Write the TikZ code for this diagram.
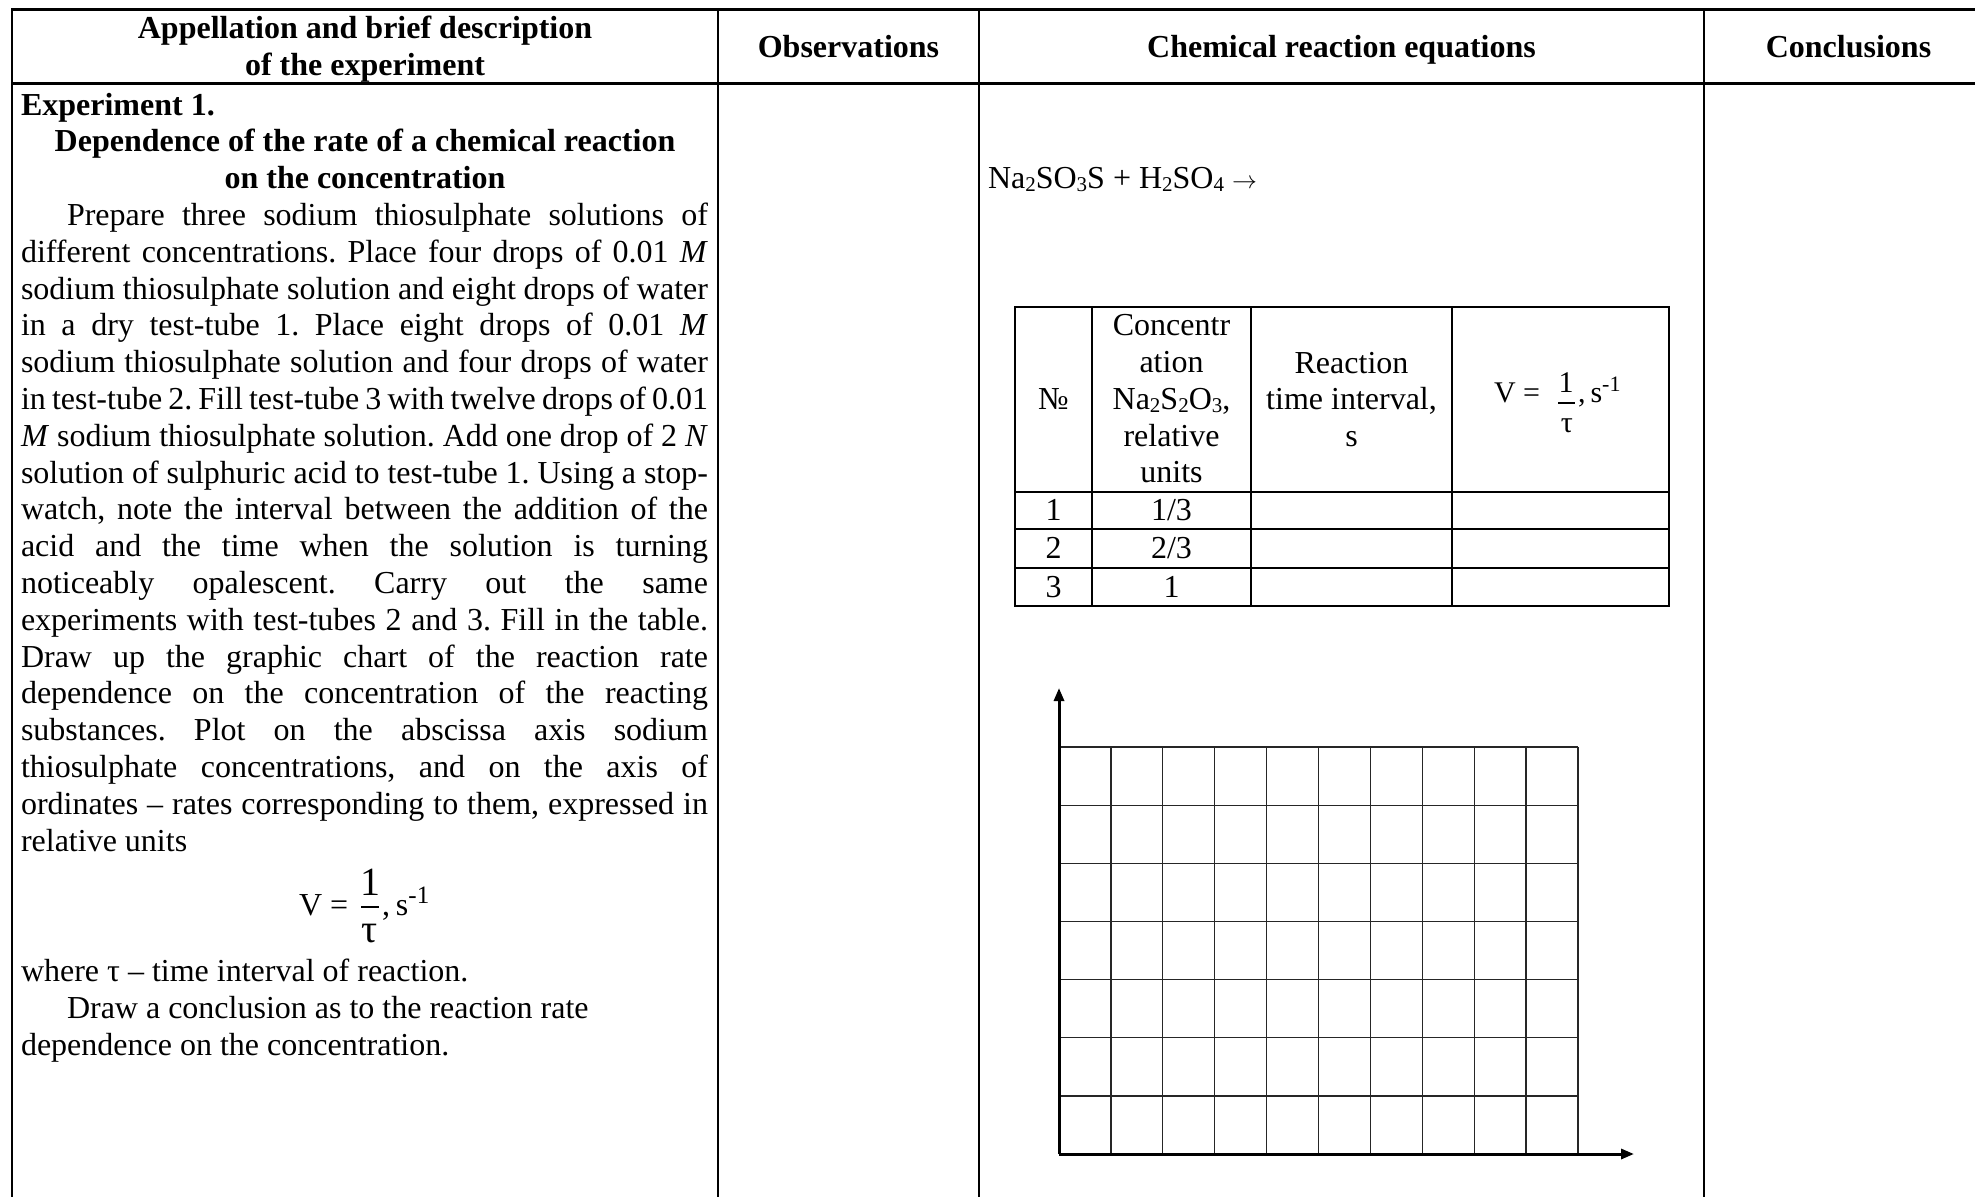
\documentclass[tikz,border=0pt]{standalone}
\usepackage{fontspec}
\setmainfont{Liberation Serif}
\usetikzlibrary{arrows.meta}
\newcommand\bodyfont{\fontsize{32}{36.8}\selectfont}
\newcommand\fmfont{\fontsize{30}{34}\selectfont}
\newcommand\bigfmfont{\fontsize{40}{44}\selectfont}
\newcommand\chsub[1]{\raisebox{-0.1em}{\fontsize{21}{21}\selectfont #1}}
\newcommand\chsup[1]{\raisebox{0.36em}{\fontsize{25}{25}\selectfont #1}}
\newcommand\chsupt[1]{\raisebox{0.36em}{\fontsize{22}{22}\selectfont #1}}
\begin{document}
\frenchspacing
\begin{tikzpicture}[x=1pt,y=-1pt,
  tl/.style={anchor=base west, inner sep=0pt, outer sep=0pt, font=\bodyfont},
  tc/.style={anchor=base, inner sep=0pt, outer sep=0pt, font=\bodyfont},
  hd/.style={tc, font=\bodyfont\bfseries},
  rulel/.style={line width=2.2pt},
  thinrule/.style={line width=2pt},
  fracbar/.style={line width=1.5pt},
  gridline/.style={line width=1.3pt, black!85},
  axisline/.style={line width=3pt, -{Triangle[length=13pt,width=10pt]}}]
\useasboundingbox (0,0) rectangle (1975,1197);

% ---- outer table ----
\draw[rulel] (1975,9.5) -- (12,9.5) -- (12,1197);
\draw[rulel] (12,83.5) -- (1975,83.5);
\foreach \x in {718,979,1704} \draw[rulel] (\x,9.5) -- (\x,1197);

% ---- header ----
\node[hd] (h1a) at (365,38.7) {Appellation and brief description};
\node[hd] (h1b) at (365,75.5) {of the experiment};
\node[hd] (h2) at (848.5,57) {Observations};
\node[hd] (h3) at (1341.5,57) {Chemical reaction equations};
\node[hd] (h4) at (1848.5,57) {Conclusions};

% ---- left column ----
\node[tl,font=\bodyfont\bfseries] (b0) at (21,115) {Experiment 1.};
\node[hd] (b1) at (365,151.8) {Dependence of the rate of a chemical reaction};
\node[hd] (b2) at (365,188.6) {on the concentration};
\node[tl] (b3) at (67,225.4) {\makebox[641pt][s]{Prepare three sodium thiosulphate solutions of}};
\node[tl] (b4) at (21,262.2) {\makebox[687pt][s]{different concentrations. Place four drops of 0.01 \textit{M}}};
\node[tl] (b5) at (21,299) {\makebox[687pt][s]{sodium thiosulphate solution and eight drops of water}};
\node[tl] (b6) at (21,335.8) {\makebox[687pt][s]{in a dry test-tube 1. Place eight drops of 0.01 \textit{M}}};
\node[tl] (b7) at (21,372.6) {\makebox[687pt][s]{sodium thiosulphate solution and four drops of water}};
\node[tl] (b8) at (21,409.4) {\makebox[687pt][s]{in test-tube 2. Fill test-tube 3 with twelve drops of 0.01}};
\node[tl] (b9) at (21,446.2) {\makebox[687pt][s]{\textit{M} sodium thiosulphate solution. Add one drop of 2 \textit{N}}};
\node[tl] (b10) at (21,483) {\makebox[687pt][s]{solution of sulphuric acid to test-tube 1. Using a stop-}};
\node[tl] (b11) at (21,519.8) {\makebox[687pt][s]{watch, note the interval between the addition of the}};
\node[tl] (b12) at (21,556.6) {\makebox[687pt][s]{acid and the time when the solution is turning}};
\node[tl] (b13) at (21,593.4) {\makebox[687pt][s]{noticeably opalescent. Carry out the same}};
\node[tl] (b14) at (21,630.2) {\makebox[687pt][s]{experiments with test-tubes 2 and 3. Fill in the table.}};
\node[tl] (b15) at (21,667) {\makebox[687pt][s]{Draw up the graphic chart of the reaction rate}};
\node[tl] (b16) at (21,703.8) {\makebox[687pt][s]{dependence on the concentration of the reacting}};
\node[tl] (b17) at (21,740.6) {\makebox[687pt][s]{substances. Plot on the abscissa axis sodium}};
\node[tl] (b18) at (21,777.4) {\makebox[687pt][s]{thiosulphate concentrations, and on the axis of}};
\node[tl] (b19) at (21,814.2) {\makebox[687pt][s]{ordinates – rates corresponding to them, expressed in}};
\node[tl] (b20) at (21,851) {relative units};

% formula
\node[tl] (fV) at (299,915) {V =};
\node[tc,font=\bigfmfont] (fn) at (370,895) {1};
\draw[fracbar] (361,907) -- (379,907);
\node[tc,font=\bigfmfont] (fd) at (370,942) {τ};
\node[tl] (fs) at (382,915) {,\hspace{6pt}s\chsup{-1}};

\node[tl] (b21) at (21,981) {where τ – time interval of reaction.};
\node[tl] (b22) at (67,1018) {Draw a conclusion as to the reaction rate};
\node[tl] (b23) at (21,1055) {dependence on the concentration.};

% ---- equations column ----
\node[tl] (eq) at (988,188) {Na\chsub{2}SO\chsub{3}S + H\chsub{2}SO\chsub{4} {\fontsize{28}{28}\selectfont$\rightarrow$}};

% inner table
\draw[thinrule] (1015,306.7) rectangle (1669,606);
\foreach \y in {491.7,529,568} \draw[thinrule] (1015,\y) -- (1669,\y);
\foreach \x in {1092,1251,1452} \draw[thinrule] (\x,306.7) -- (\x,606);

\node[tc] (c1) at (1053.5,409.8) {№};
\node[tc] (c2a) at (1171.5,335.7) {Concentr};
\node[tc] (c2b) at (1171.5,372.5) {ation};
\node[tc] (c2c) at (1171.5,409.3) {Na\chsub{2}S\chsub{2}O\chsub{3},};
\node[tc] (c2d) at (1171.5,446.1) {relative};
\node[tc] (c2e) at (1171.5,482.9) {units};
\node[tc] (c3a) at (1351.5,373) {Reaction};
\node[tc] (c3b) at (1351.5,409.8) {time interval,};
\node[tc] (c3c) at (1351.5,446.6) {s};
\node[tl,font=\fmfont] (tV) at (1494,402) {V =};
\node[tc,font=\fmfont] (tn) at (1566,392) {1};
\draw[fracbar] (1558,403) -- (1575,403);
\node[tc,font=\fmfont] (td) at (1567,432) {τ};
\node[tl,font=\fmfont] (ts) at (1578,402) {,\hspace{5pt}s\chsupt{-1}};

\node[tc] (r1a) at (1053.5,520.7) {1};
\node[tc] (r1b) at (1171.5,520.7) {1/3};
\node[tc] (r2a) at (1053.5,558) {2};
\node[tc] (r2b) at (1171.5,558) {2/3};
\node[tc] (r3a) at (1053.5,597) {3};
\node[tc] (r3b) at (1171.5,597) {1};

% ---- graph ----
\coordinate (O) at (1059,1154);
\coordinate (ytip) at (1059,688);
\coordinate (xtip) at (1634,1154);
\foreach \i in {1,...,10} \draw[gridline] ({1059+51.9*\i},747) -- ({1059+51.9*\i},1154);
\foreach \j in {0,...,6} \draw[gridline] (1059,{747+58.14*\j}) -- (1578,{747+58.14*\j});
\draw[axisline] (O) -- (ytip);
\draw[axisline] (O) -- (xtip);
\end{tikzpicture}
\end{document}
